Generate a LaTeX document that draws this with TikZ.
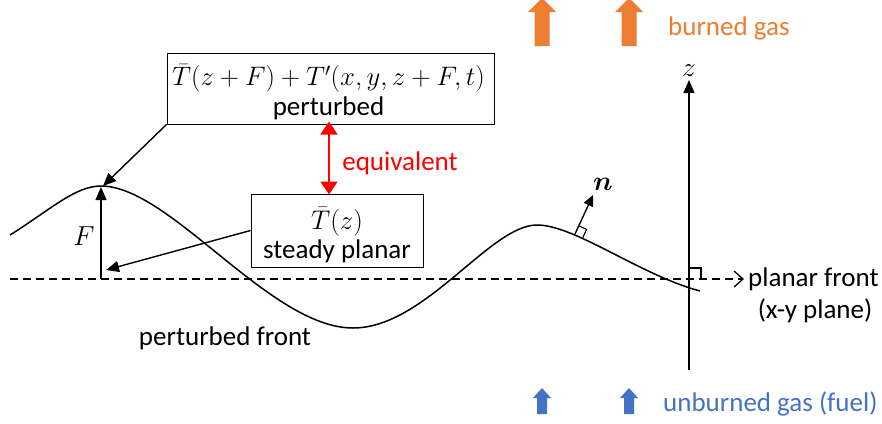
\RequirePackage{fix-cm}
\documentclass[tikz,border=0pt]{standalone}
\usepackage{amsmath}
\usepackage{fontspec}
\setmainfont{Carlito}
\usetikzlibrary{arrows.meta,calc}
\definecolor{burnt}{HTML}{ED7D31}
\definecolor{fuelblue}{HTML}{4472C4}
\begin{document}
\begin{tikzpicture}[x=1pt,y=-1pt,
  every node/.style={font=\fontsize{27}{29.5}\selectfont, inner sep=0pt},
  mathlbl/.style={font=\fontsize{27.5}{32}\selectfont},
  box/.style={draw, line width=1pt, fill=white},
  boxtext/.style={align=center, font=\fontsize{27}{29.5}\selectfont},
  ln/.style={line width=1.4pt},
  arr/.style={ln, -{Triangle[length=13pt,width=11pt]}},
  redarr/.style={line width=1.5pt, red, {Triangle[length=13pt,width=17pt]}-{Triangle[length=13pt,width=17pt]}},
  dashline/.style={line width=1.3pt, dash pattern=on 8pt off 5pt, -{Straight Barb[length=9pt,width=16pt,line width=1.3pt]}},
  bigup/.pic={\fill[burnt] (-7.5,0) -- (-7.5,-34) -- (-14,-34) -- (0,-48) -- (14,-34) -- (7.5,-34) -- (7.5,0) -- cycle;},
  smallup/.pic={\fill[fuelblue] (-5,0) -- (-5,-16) -- (-9,-16) -- (0,-26) -- (9,-16) -- (5,-16) -- (5,0) -- cycle;}
]
\useasboundingbox (0,0) rectangle (882,423);
\clip (0,0) rectangle (882,423);

% coordinates
\coordinate (start) at (10,235);
\coordinate (peak) at (101,186);
\coordinate (trough) at (353,328);
\coordinate (peak2) at (537,225);
\coordinate (fend) at (700,291);
\coordinate (Fbase) at (101,279);
\coordinate (dashL) at (10,279);
\coordinate (dashR) at (744,279);
\coordinate (zbot) at (689,370);
\coordinate (ztop) at (689,80);
\coordinate (stip) at (106,270);
\coordinate (nbase) at (575,234);
\coordinate (ntip) at (593,195);

% dashed planar front
\draw[dashline] (dashL) -- (dashR);

% perturbed front curve
\draw[ln, line width=1.5pt] (start) .. controls (50,210) and (75,186) .. (peak)
  .. controls (170,186) and (270,328) .. (trough)
  .. controls (425,328) and (490,225) .. (peak2)
  .. controls (575,225) and (640,275) .. (fend);

% z axis
\draw[arr] (zbot) -- (ztop);
\node[mathlbl] (zl) at (689,71) {$z$};
% right angle at z axis
\draw[line width=1.2pt] (689,268) -- (701,268) -- (701,279);

% normal n
\draw[arr, -{Triangle[length=11pt,width=10pt]}] (nbase) -- (ntip);
\draw[line width=1.1pt] ($(nbase)+(7.8,3.6)$) -- ++(3.8,-8.2) -- ++(-7.8,-3.6);
\node[mathlbl] (nl) at (603,184) {$\boldsymbol{n}$};

% F arrow
\draw[arr] (Fbase) -- ([yshift=-1pt]peak);
\node[mathlbl] (Fl) at (84,236) {$F$};

% boxes
\node[box, minimum width=327pt, minimum height=71pt] (pert) at (330.5,88.5) {};
\node[boxtext] (perttxt) at (328.5,92) {{\fontsize{26.7}{29.5}\selectfont$\bar{T}(z+F)+T'(x,y,z+F,t)$}\\perturbed};

\node[box, minimum width=172pt, minimum height=73pt] (steady) at (337,230.5) {};
\node[boxtext] (steadytxt) at (337,235) {$\bar{T}(z)$\\steady planar};

% connectors
\draw[arr] (pert.south west) -- ([xshift=2pt]peak);
\draw[arr] (steady.west) -- (stip);
\draw[redarr] ([yshift=3pt]pert.south -| 329,0) -- ([yshift=-1pt]steady.north -| 329,0);
\node[red] (eq) at (400,163) {equivalent};

% labels
\node (pf) at (225,338) {perturbed front};
\node[anchor=west] (plf) at (748,279) {planar front};
\node (xy) at (815,311) {(x-y plane)};

% gas arrows
\pic at (542,46) {bigup};
\pic at (629,46) {bigup};
\node[burnt, anchor=west] (bg) at (668,28) {burned gas};
\pic at (542,414) {smallup};
\pic at (629,414) {smallup};
\node[fuelblue, anchor=west] (ug) at (663,404) {unburned gas (fuel)};
\end{tikzpicture}
\end{document}
